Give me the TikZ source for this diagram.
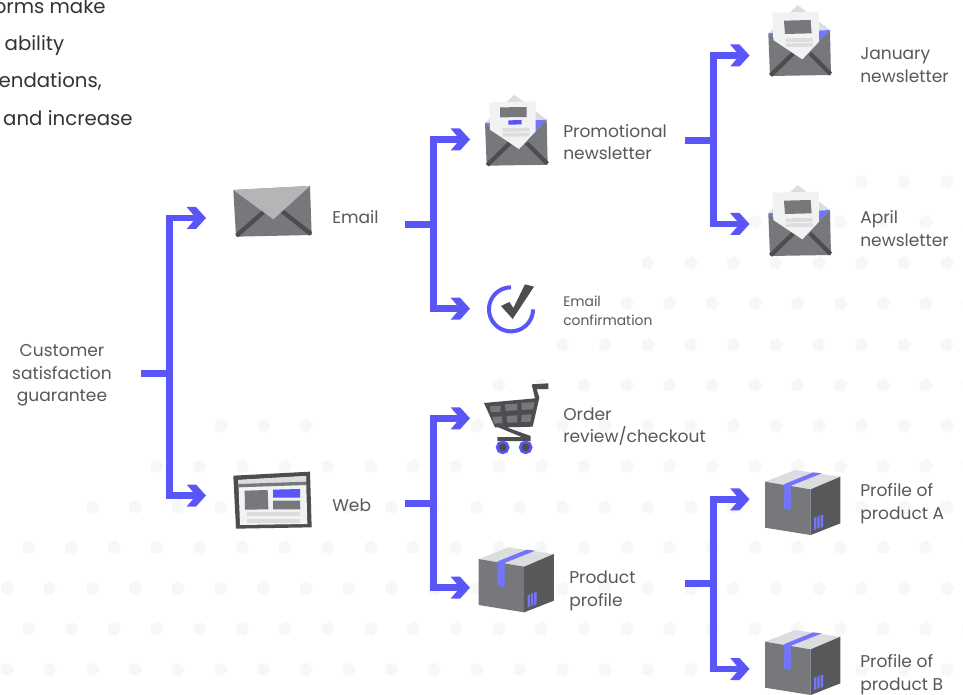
\documentclass[tikz,border=0pt]{standalone}
\usepackage{fontspec}
\setmainfont{Poppins}
\usetikzlibrary{arrows.meta}
\definecolor{accent}{HTML}{5A55F6}
\definecolor{lilac}{HTML}{7375FF}
\definecolor{midg}{HTML}{77787B}
\definecolor{darkg}{HTML}{4D4D4F}
\definecolor{sideg}{HTML}{58595B}
\definecolor{lightg}{HTML}{DCDDDE}
\definecolor{paperg}{HTML}{F1F2F2}
\definecolor{dotg}{HTML}{F7F7F7}
\definecolor{txt}{HTML}{58595B}
\pgfdeclarearrow{
  name=Chev,
  setup code={\pgfarrowssettipend{0pt}\pgfarrowssetlineend{-6pt}\pgfarrowssetvisualbackend{-14.5pt}\pgfarrowssetbackend{-14.5pt}%
    \pgfarrowshullpoint{0pt}{0pt}\pgfarrowshullpoint{-14.5pt}{8.25pt}\pgfarrowshullpoint{-14.5pt}{-8.25pt}},
  drawing code={\pgfsetfillcolor{accent}%
    \pgfpathmoveto{\pgfqpoint{0pt}{0pt}}%
    \pgfpathlineto{\pgfqpoint{-7.5pt}{8.25pt}}%
    \pgfpathlineto{\pgfqpoint{-14.5pt}{8.25pt}}%
    \pgfpathlineto{\pgfqpoint{-7.5pt}{0pt}}%
    \pgfpathlineto{\pgfqpoint{-14.5pt}{-8.25pt}}%
    \pgfpathlineto{\pgfqpoint{-7.5pt}{-8.25pt}}%
    \pgfpathclose\pgfusepathqfill}
}
\tikzset{
  conn/.style={draw=accent,line width=4.9pt},
  arrowconn/.style={conn,-{Chev}},
  lab/.style={anchor=west,align=left,inner sep=0pt,text=txt,font=\fontsize{12.8pt}{16.9pt}\selectfont},
  labsmall/.style={lab,font=\fontsize{10.4pt}{14.2pt}\selectfont},
  labcentre/.style={lab,anchor=center,align=center},
  clip text/.style={anchor=base east,inner sep=0pt,text=black!80,font=\fontsize{14.8pt}{17pt}\selectfont},
  hub/.style={anchor=west,inner sep=0pt,minimum height=10pt},
  zoomed/.style={x=.25pt,y=-.25pt}
}
\newcommand\onedot[2]{\fill[dotg] (#1,#2) +(68:7.2) -- +(140:7.2) -- +(212:7.2) -- +(284:7.2) -- +(356:7.2) -- cycle;}
\newcommand\dotrow[3]{\foreach \k in {#3,...,22}{%
  \pgfmathsetmacro\dx{#1+42.72*\k}%
  \onedot{\dx}{#2}}}
\newcommand\OpenEnv[3]{\begin{scope}[shift={(#1,#2)},zoomed,shift={(-925,-90)}]
  \fill[lightg] (925,100)--(1013,15)--(1110,90)--cycle;
  \fill[lilac] (925,100)--(1110,90)--(1027,178)--cycle;
  \fill[midg] (925,100)--(1027,178)--(1110,90)--(1113,225)--(930,228)--cycle;
  \draw[darkg,line width=3.2pt] (932,226)--(1000,160);
  \draw[darkg,line width=3.2pt] (1112,222)--(1050,160);
  \fill[paperg] (938,38)--(1077,35)--(1077,125)--(1027,178)--(940,120)--cycle;
  #3
  \end{scope}}
\newcommand\NewsLetterMarks{%
  \fill[midg] (972,62)--(1052,60)--(1055,100)--(975,102)--cycle;
  \fill[lightg] (978,115)--(1058,114)--(1058,125)--(978,126)--cycle;
  \fill[lightg] (978,130)--(1058,129)--(1058,140)--(978,141)--cycle;}
\newcommand\PromoMarks{%
  \fill[midg] (970,53)--(1050,52)--(1050,82)--(970,83)--cycle;
  \fill[accent] (995,92)--(1035,91)--(1035,104)--(995,105)--cycle;
  \fill[lightg] (978,115)--(1058,114)--(1058,125)--(978,126)--cycle;
  \fill[lightg] (978,130)--(1058,129)--(1058,140)--(978,141)--cycle;}
\newcommand\BoxIcon[2]{\begin{scope}[shift={(#1,#2)},zoomed,shift={(-255,-65)}]
  \fill[lightg] (255,65)--(345,30)--(481,50)--(392,88)--cycle;
  \fill[midg] (255,65)--(392,88)--(392,225)--(255,203)--cycle;
  \fill[sideg] (392,88)--(481,50)--(481,190)--(392,225)--cycle;
  \fill[lilac] (313,72)--(400,37)--(425,40)--(333,77)--(333,150)--(312,145)--cycle;
  \fill[lilac] (402,173)--(409,171)--(409,208)--(402,210)--cycle;
  \fill[lilac] (412,169)--(419,167)--(419,204)--(412,206)--cycle;
  \fill[lilac] (422,166)--(429,164)--(429,201)--(422,203)--cycle;
  \end{scope}}
\begin{document}
\begin{tikzpicture}[x=.75pt,y=-.75pt]
\useasboundingbox (0,0) rectangle (963,695);
\fill[white] (0,0) rectangle (963,695);
\begin{scope}
\clip (0,0) rectangle (963,695);
% background dots
\dotrow{7}{181.6}{20}
\dotrow{28.7}{222}{17}
\dotrow{7}{263}{15}
\dotrow{28.7}{303.6}{14}
\dotrow{7}{344.5}{13}
\dotrow{28.7}{385}{11}
\foreach \k in {5,6,7}{\pgfmathsetmacro\dx{7+42.72*\k}\onedot{\dx}{425.7}}
\dotrow{7}{425.7}{11}
\dotrow{28.7}{466.5}{3}
\dotrow{7}{507}{2}
\dotrow{28.7}{547.5}{0}
\dotrow{7}{588.4}{0}
\dotrow{28.7}{629}{0}
\dotrow{7}{669.5}{0}
% clipped paragraph at the top left
\node[clip text] (para1) at (106,14) {orms make};
\node[clip text] (para2) at (64.5,51) {ability};
\node[clip text] (para3) at (102,88) {endations,};
\node[clip text] (para4) at (133,126) {and increase};
\end{scope}
% labels
\node[labcentre] (root) at (62,375.5) {Customer\\satisfaction\\guarantee};
\node[lab] (emailT) at (332,217) {Email};
\node[lab] (promoT) at (563,142) {Promotional\\newsletter};
\node[lab] (janT) at (860,65) {January\\newsletter};
\node[lab] (aprT) at (860,228.5) {April\\newsletter};
\node[labsmall] (confT) at (563,311) {Email\\confirmation};
\node[lab] (orderT) at (563,426.5) {Order\\review/checkout};
\node[lab] (webT) at (332,505) {Web};
\node[lab] (prodT) at (569,591) {Product\\profile};
\node[lab] (pAT) at (860,503.5) {Profile of\\product A};
\node[lab] (pBT) at (860,674.5) {Profile of\\product B};
% icons
\begin{scope}[shift={(220,170)},zoomed]
  \fill[midg] (40,60)--(270,48)--(275,195)--(48,200)--cycle;
  \draw[darkg,line width=3.2pt] (50,197)--(135,122);
  \draw[darkg,line width=3.2pt] (273,192)--(182,120);
  \fill[lightg!60!midg] (40,60)--(270,48)--(160,148)--cycle;
  \draw[accent,line width=3pt] plot[domain=90:360,samples=60,smooth] ({873+66*cos(\x)},{418-66*sin(\x)});
  \fill[darkg] (843,408)--(868,396)--(880,414)--(915,343)--(942,350)--(878,447)--cycle;
\end{scope}
\OpenEnv{485}{119.7}{\PromoMarks}
\OpenEnv{768.3}{30}{\NewsLetterMarks}
\OpenEnv{768.3}{210}{\NewsLetterMarks}
\begin{scope}[shift={(220,375)},zoomed]
  % browser
  \fill[darkg] (40,302)--(270,290)--(275,457)--(48,461)--cycle;
  \fill[paperg] (55,315)--(258,303)--(262,447)--(60,450)--cycle;
  \fill[lightg] (55,315)--(258,303)--(258,320)--(55,327)--cycle;
  \fill[midg] (55,327)--(258,320)--(258,330)--(56,337)--cycle;
  \fill[midg] (74,347)--(143,345)--(145,403)--(75,404)--cycle;
  \fill[accent] (159,344)--(240,342)--(240,368)--(159,368)--cycle;
  \fill[midg] (159,377)--(240,377)--(241,403)--(159,403)--cycle;
  \fill[lightg] (80,410)--(241,410)--(241,424)--(80,424)--cycle;
  \fill[lightg] (80,431)--(241,431)--(241,444)--(80,444)--cycle;
  % cart
  \fill[darkg] (945,70)--(935,28)--(985,25)--(985,42)--(950,42)--(958,68)--(938,155)--(860,157)--(932,183)--(932,198)--(832,198)--(832,186)--(905,186)--(835,157)--(825,157)--(792,84)--cycle;
  \fill[midg] (810,94)--(842,92)--(842,110)--(812,112)--cycle;
  \fill[midg] (855,88)--(892,86)--(892,106)--(857,108)--cycle;
  \fill[midg] (904,84)--(943,81)--(940,103)--(905,105)--cycle;
  \fill[midg] (818,126)--(845,124)--(848,144)--(822,146)--cycle;
  \fill[midg] (860,123)--(892,121)--(892,142)--(862,143)--cycle;
  \fill[midg] (905,120)--(935,118)--(932,140)--(903,141)--cycle;
  \draw[accent,fill=darkg,line width=2pt] (848,217) circle[radius=16.5];
  \draw[accent,fill=darkg,line width=2pt] (917,217) circle[radius=16.5];
\end{scope}
\BoxIcon{478.5}{559}
\BoxIcon{765}{481.7}
\BoxIcon{765}{641.7}
% connector targets, spanning each icon
\node[hub,minimum width=79.5pt] (email) at (206,218) {};
\node[hub,minimum width=84pt] (web) at (206,495.5) {};
\node[hub,minimum width=58pt] (promo) at (470,139.5) {};
\node[hub,minimum width=38pt] (conf) at (470,308.7) {};
\node[hub,minimum width=60pt] (order) at (470,418.3) {};
\node[hub,minimum width=62pt] (prod) at (470,587.7) {};
\node[hub,minimum width=60pt] (jan) at (749.5,55.5) {};
\node[hub,minimum width=60pt] (apr) at (749.5,224) {};
\node[hub,minimum width=68pt] (pA) at (749.5,499.3) {};
\node[hub,minimum width=68pt] (pB) at (749.5,669) {};
% junctions and stems
\coordinate (rootS) at (141,373.5);
\coordinate (rootJ) at (169.7,373.5);
\coordinate (emailS) at (405,224.5);
\coordinate (emailJ) at (433.5,224.5);
\coordinate (promoS) at (685,140.3);
\coordinate (promoJ) at (713.3,140.3);
\coordinate (webS) at (405,503.3);
\coordinate (webJ) at (433.5,503.3);
\coordinate (prodS) at (685,583.3);
\coordinate (prodJ) at (713.3,583.3);
\draw[conn] (rootS) -- (rootJ);
\draw[arrowconn] (rootJ) |- (email.west);
\draw[arrowconn] (rootJ) |- (web.west);
\draw[conn] (emailS) -- (emailJ);
\draw[arrowconn] (emailJ) |- (promo.west);
\draw[arrowconn] (emailJ) |- (conf.west);
\draw[conn] (promoS) -- (promoJ);
\draw[arrowconn] (promoJ) |- (jan.west);
\draw[arrowconn] (promoJ) |- (apr.west);
\draw[conn] (webS) -- (webJ);
\draw[arrowconn] (webJ) |- (order.west);
\draw[arrowconn] (webJ) |- (prod.west);
\draw[conn] (prodS) -- (prodJ);
\draw[arrowconn] (prodJ) |- (pA.west);
\draw[arrowconn] (prodJ) |- (pB.west);
\end{tikzpicture}
\end{document}
